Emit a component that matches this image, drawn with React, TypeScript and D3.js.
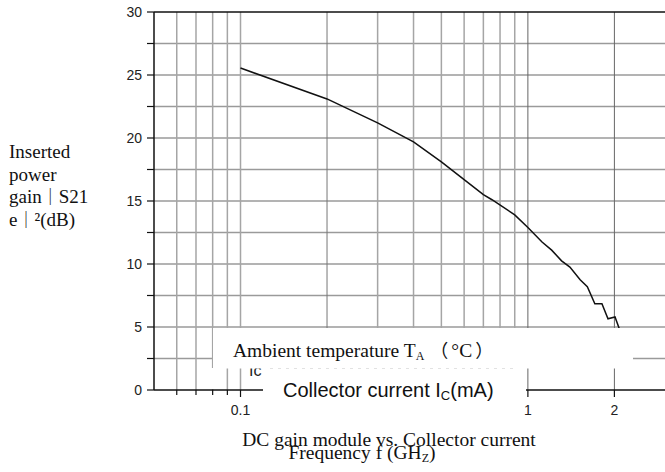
import React from "react";
import * as d3 from "d3";

const freqGHz = [0.1, 0.2, 0.3, 0.4, 0.5, 0.6, 0.7, 0.75, 0.9, 1.0, 1.12, 1.21, 1.31, 1.4, 1.52, 1.61, 1.71, 1.81, 1.9, 2.01, 2.1];
const gainDb = [25.55, 23.1, 21.2, 19.7, 18.1, 16.7, 15.5, 15.1, 13.9, 12.9, 11.75, 11.1, 10.25, 9.75, 8.75, 8.2, 6.85, 6.85, 5.65, 5.8, 4.6];

const yTicks = [0, 2.5, 5, 7.5, 10, 12.5, 15, 17.5, 20, 22.5, 25, 27.5, 30];
const yLabels = [0, 5, 10, 15, 20, 25, 30];
const xMinor = [0.06, 0.07, 0.08, 0.09, 0.2, 0.3, 0.4, 0.5, 0.6, 0.7, 0.8, 0.9];
const xMajor = [0.1, 1, 2];
const xLabels = ["0.1", "1", "2"];
const yTitleLines = [["Inserted"], ["power"], ["gain", "｜", "S21"], ["e", "｜", "²(dB)"]];

const SERIF = "'Liberation Serif', 'Times New Roman', serif";
const CJK = "'Noto Sans CJK SC', 'Noto Sans CJK JP', sans-serif";
const SANS = "'Liberation Sans', Arial, sans-serif";

export default function App() {
  const x = d3.scaleLog().domain([0.05, 3]).range([154, 665]);
  const y = d3.scaleLinear().domain([0, 30]).range([390, 12]);
  const line = d3
    .line<number>()
    .x((_, i) => x(freqGHz[i]))
    .y((d) => y(d));
  const path = line(gainDb) || "";
  const x0 = x(0.05);
  const x1 = x(3);
  const yTop = y(30);
  const yBot = y(0);

  return (
    <svg
      width={665}
      height={472}
      style={{ position: "absolute", left: 0, top: 0, background: "#fff" }}
    >
      <rect x={0} y={0} width={665} height={472} fill="#fff" />
      {/* horizontal gridlines */}
      {yTicks.filter((t) => t > 0 && t < 30).map((t) => (
        <line key={"hg" + t} x1={x0} x2={x1} y1={y(t)} y2={y(t)} stroke="#9a9a9a" strokeWidth={1.4} />
      ))}
      {/* vertical gridlines */}
      {xMinor.map((f) => (
        <line key={"vg" + f} x1={x(f)} x2={x(f)} y1={yTop} y2={yBot}
          stroke={f === 0.2 ? "#777" : "#a5a5a5"} strokeWidth={f === 0.2 ? 1 : 1.5} />
      ))}
      {xMajor.map((f) => (
        <line key={"vM" + f} x1={x(f)} x2={x(f)} y1={yTop} y2={yBot}
          stroke={f === 0.1 ? "#a5a5a5" : "#666"} strokeWidth={f === 0.1 ? 1.5 : 1} />
      ))}
      {/* curve */}
      <path d={path} fill="none" stroke="#111" strokeWidth={1.5} />
      {/* axes */}
      <line x1={x0} x2={x1} y1={yTop} y2={yTop} stroke="#111" strokeWidth={1.5} />
      <line x1={x0} x2={x0} y1={yTop} y2={yBot} stroke="#111" strokeWidth={1.5} />
      <line x1={x0} x2={x1} y1={yBot} y2={yBot} stroke="#111" strokeWidth={1.5} />
      {yTicks.map((t) => (
        <line key={"yt" + t} x1={x0 - 7} x2={x0} y1={y(t)} y2={y(t)} stroke="#111" strokeWidth={1.2} />
      ))}
      {yLabels.map((t) => (
        <text key={"yl" + t} x={142} y={y(t)} dy="0.35em" textAnchor="end"
          fontFamily={SANS} fontSize={14} fill="#222">{t}</text>
      ))}
      {xMinor.map((f) => (
        <line key={"xt" + f} x1={x(f)} x2={x(f)} y1={yBot} y2={yBot + 5} stroke="#111" strokeWidth={1.2} />
      ))}
      {xMajor.map((f) => (
        <line key={"xT" + f} x1={x(f)} x2={x(f)} y1={yBot} y2={yBot + 7} stroke="#111" strokeWidth={1.2} />
      ))}
      {xMajor.map((f, i) => (
        <text key={"xl" + f} x={x(f)} y={415} textAnchor="middle"
          fontFamily={SANS} fontSize={14} fill="#222">{xLabels[i]}</text>
      ))}

      {/* partially hidden label */}
      <text x={249} y={376} fontFamily={SANS} fontSize={16} fill="#222">Ic</text>

      {/* overlay boxes */}
      <rect x={213} y={328} width={420} height={40.5} fill="#fff" />
      <rect x={263} y={368} width={263} height={33} fill="#fff" />
      <rect x={206} y={368} width={16} height={21} fill="#fff" />
      <line x1={270} x2={515} y1={368.5} y2={368.5} stroke="#e2e2e2" strokeDasharray="3,5" />

      <text x={233} y={357} fontFamily={SERIF} fontSize={19.5} fill="#111">
        Ambient temperature T<tspan fontSize={12} dy={3}>A</tspan>
        <tspan dy={-3} dx={6} fontFamily={CJK} fontSize={18}>（</tspan>
        <tspan dx={3}>°C</tspan>
        <tspan dx={3} fontFamily={CJK} fontSize={18}>）</tspan>
      </text>
      <text x={283} y={397} fontFamily={SANS} fontSize={20} fill="#111">
        Collector current I<tspan fontSize={13} dy={3}>C</tspan>
        <tspan dy={-3}>(mA)</tspan>
      </text>

      {/* y title */}
      {yTitleLines.map((parts, i) => (
        <text key={"ytl" + i} x={9} y={158 + i * 22.7} fontFamily={SERIF} fontSize={19} fill="#111">
          {parts.map((p, j) =>
            p === "｜" ? (
              <tspan key={j} fontFamily={CJK} fontSize={17}>{p}</tspan>
            ) : (
              <tspan key={j}>{p}</tspan>
            )
          )}
        </text>
      ))}

      {/* bottom titles */}
      <text x={389} y={446} textAnchor="middle" fontFamily={SERIF} fontSize={19.5} fill="#111">
        DC gain module vs. Collector current
      </text>
      <text x={362} y={459} textAnchor="middle" fontFamily={SERIF} fontSize={19.5} fill="#111">
        Frequency f (GH<tspan fontSize={12} dy={3}>Z</tspan><tspan dy={-3}>)</tspan>
      </text>
    </svg>
  );
}
